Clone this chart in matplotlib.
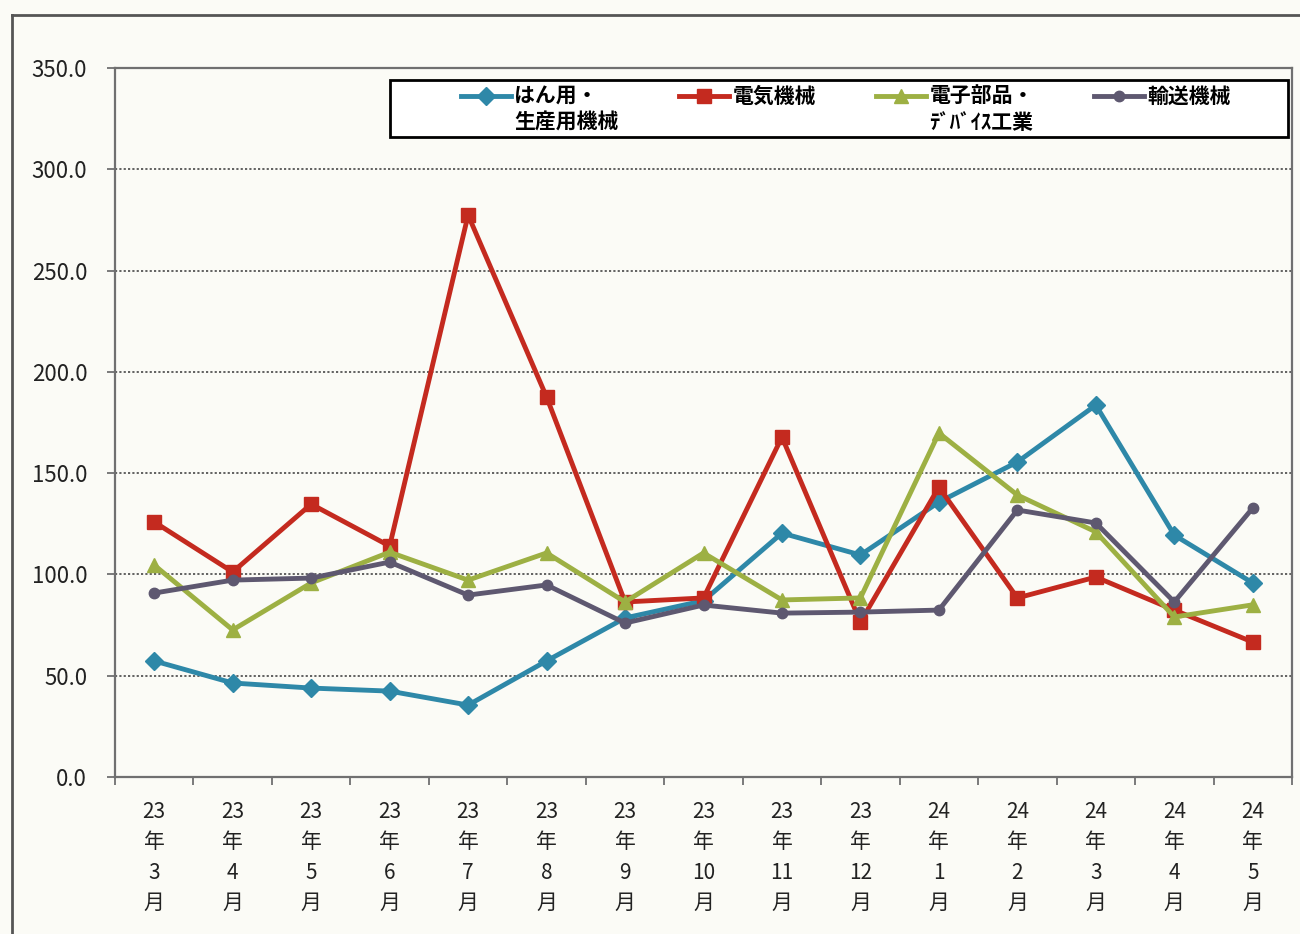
import numpy as np
import matplotlib
matplotlib.use("Agg")
import matplotlib.pyplot as plt
from matplotlib.legend_handler import HandlerLine2D
from matplotlib.lines import Line2D
from matplotlib.patches import Rectangle

plt.rcParams['font.family'] = ['Noto Sans CJK JP', 'DejaVu Sans']

months = ['23\n年\n3\n月', '23\n年\n4\n月', '23\n年\n5\n月', '23\n年\n6\n月',
          '23\n年\n7\n月', '23\n年\n8\n月', '23\n年\n9\n月', '23\n年\n10\n月',
          '23\n年\n11\n月', '23\n年\n12\n月', '24\n年\n1\n月', '24\n年\n2\n月',
          '24\n年\n3\n月', '24\n年\n4\n月', '24\n年\n5\n月']

general_machinery = [57.3, 46.4, 43.9, 42.4, 35.5, 57.3, 78.5, 87.0, 120.4,
                     109.6, 135.7, 155.5, 183.6, 119.4, 95.8]
electrical = [125.9, 101.2, 134.7, 114.0, 277.4, 187.6, 86.4, 88.4, 167.8,
              76.5, 143.1, 88.4, 98.7, 82.4, 66.6]
electronic_parts = [104.6, 72.6, 95.8, 111.0, 97.2, 110.6, 86.4, 110.6, 87.4,
                    88.4, 169.8, 139.2, 121.0, 79.0, 85.0]
transport = [90.8, 97.2, 98.2, 106.1, 89.8, 94.8, 76.0, 84.9, 80.9, 81.4,
             82.4, 131.8, 125.4, 86.4, 132.8]

series = [
    ('はん用・\n生産用機械', general_machinery, '#2E88A8', 'D', 9.5),
    ('電気機械\n ', electrical, '#C42A1F', 's', 9.5),
    ('電子部品・\nﾃﾞﾊﾞｲｽ工業', electronic_parts, '#9DB043', '^', 10.5),
    ('輸送機械\n ', transport, '#5E5870', 'o', 7.5),
]


class TopHandler(HandlerLine2D):
    """Legend handle aligned with the first line of a two-line label."""
    def __init__(self, shift, **kw):
        super().__init__(**kw)
        self.shift = shift

    def create_artists(self, legend, orig_handle, xdescent, ydescent,
                       width, height, fontsize, trans):
        arts = super().create_artists(legend, orig_handle, xdescent, ydescent,
                                      width, height, fontsize, trans)
        for a in arts:
            a.set_ydata(np.asarray(a.get_ydata(), dtype=float) + self.shift * fontsize)
        return arts


bg = '#FBFBF6'
fig = plt.figure(figsize=(13, 9.34), dpi=100, facecolor=bg)
ax = fig.add_axes([115 / 1300, 1 - 777 / 934, (1292 - 115) / 1300, (777 - 68) / 934])
ax.set_facecolor(bg)

x = np.arange(len(months))
handles = []
for label, vals, color, marker, ms in series:
    ln, = ax.plot(x, vals, color=color, lw=3.5, marker=marker, markersize=ms,
                  markeredgecolor=color, label=label, zorder=3)
    handles.append(ln)

ax.set_xlim(-0.5, len(months) - 0.5)
ax.set_ylim(0, 350)
ax.set_yticks(np.arange(0, 351, 50))
ax.set_yticklabels([f'{v:.1f}' for v in np.arange(0, 351, 50)])
ax.set_xticks(x)
ax.set_xticklabels(months, linespacing=1.5)
ax.set_xticks(np.arange(-0.5, len(months), 1), minor=True)
ax.tick_params(axis='x', which='major', length=0, pad=17, labelsize=15,
               colors='#222222')
ax.tick_params(axis='x', which='minor', length=6, width=1.3, color='#707070',
               direction='out')
ax.tick_params(axis='y', length=6, width=1.3, color='#707070', pad=14,
               labelsize=16, labelcolor='#222222')

ax.grid(axis='y', color='#555555', linestyle=(0, (1.2, 1.2)), linewidth=1.3)
for sp in ax.spines.values():
    sp.set_color('#707070')
    sp.set_linewidth(1.6)

# legend box
fig.patches.append(Rectangle((390 / 1300, 1 - 137 / 934), (1288 - 390) / 1300,
                             57 / 934, transform=fig.transFigure,
                             facecolor='white', edgecolor='black', lw=2, zorder=4))
leg = fig.legend(handles=handles, loc='center',
                 bbox_to_anchor=(846 / 1300, 1 - 109 / 934),
                 ncol=4, frameon=False, fontsize=15, handlelength=2.4,
                 handletextpad=0.15, columnspacing=2.9,
                 handler_map={Line2D: TopHandler(0.68)})
leg.set_zorder(5)
for t in leg.get_texts():
    t.set_linespacing(1.3)
    t.set_fontweight('bold')

# outer chart frame
fig.add_artist(Line2D([12 / 1300, 1], [1 - 15 / 934, 1 - 15 / 934],
                      transform=fig.transFigure, color='#555555', lw=2))
fig.add_artist(Line2D([12 / 1300, 12 / 1300], [0, 1 - 15 / 934],
                      transform=fig.transFigure, color='#555555', lw=2))

fig.savefig('out.png', dpi=100, facecolor=bg)
